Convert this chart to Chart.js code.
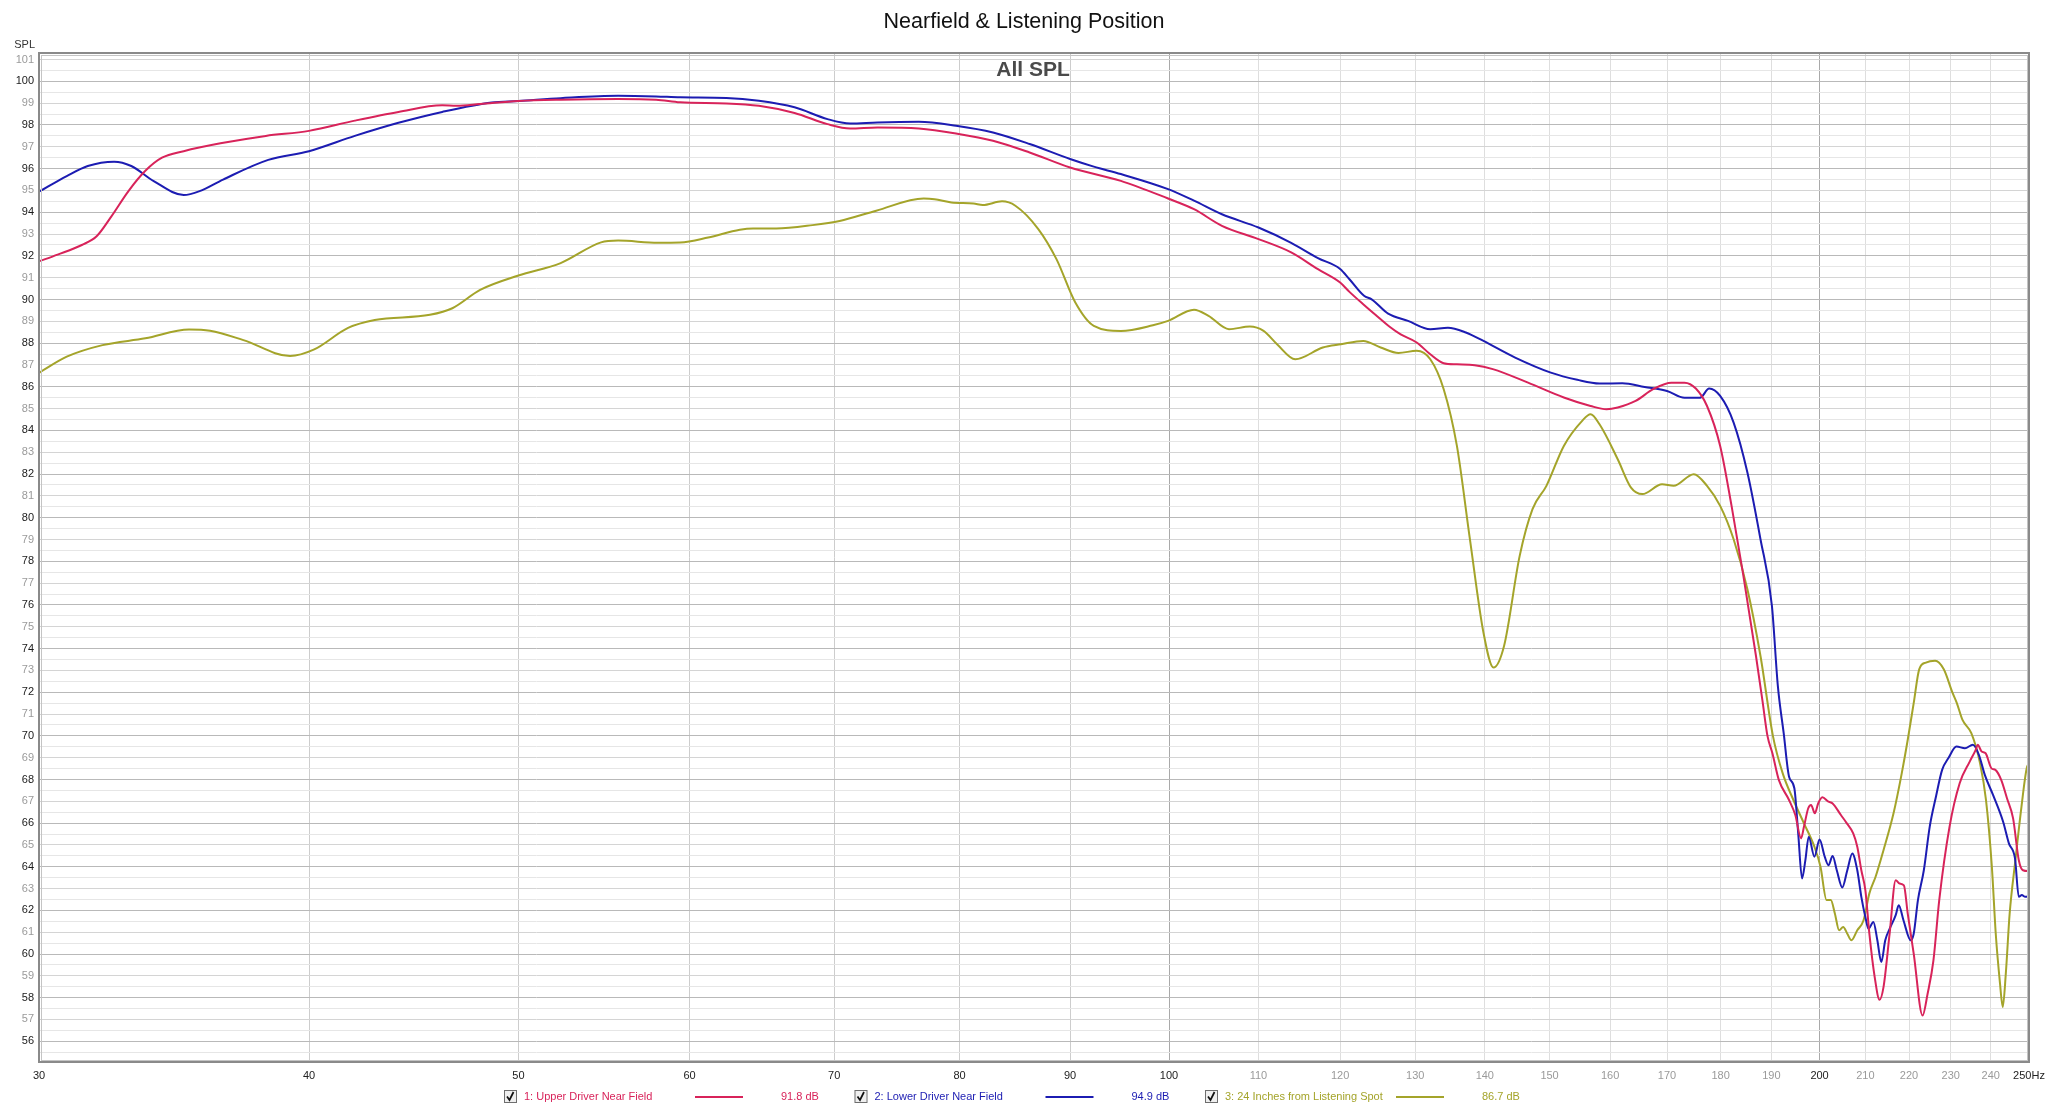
<!DOCTYPE html>
<html>
<head>
<meta charset="utf-8">
<title>Nearfield & Listening Position</title>
<script src="https://cdn.jsdelivr.net/npm/chart.js@4.4.0/dist/chart.umd.min.js"></script>
<style>
  html, body { margin: 0; padding: 0; background: #fff; }
  #wrap { width: 2048px; height: 1110px; position: relative; }
</style>
</head>
<body>
<div id="wrap"><canvas id="chart"></canvas></div>
<script>
// Series names, levels and colours (legend)
const seriesNames = ['1: Upper Driver Near Field', '2: Lower Driver Near Field', '3: 24 Inches from Listening Spot']
const seriesLevels = ['91.8 dB', '94.9 dB', '86.7 dB']
const seriesColors = ['#d8235a', '#1c1cb2', '#a4a42a']

// Axis ticks
const freqTicks = [30, 40, 50, 60, 70, 80, 90, 100, 110, 120, 130, 140, 150, 160, 170, 180, 190, 200, 210, 220, 230, 240, 250]
const splTicks = []
for (let v = 55.5; v <= 101; v += 0.5) splTicks.push(v)

// 1: Upper Driver Near Field
const upperFreq = [30, 30.6, 31.4, 31.9, 32.4, 33.0, 33.6, 34.2, 35.0, 36.4, 38.2, 40, 42, 44, 46.1, 46.8, 48, 50, 52.3, 55.6,
  57.9, 59.4, 62.4, 64.6, 67.1, 69.5, 71.2, 73.3, 76.6, 79.7, 82.9, 86.2, 90, 95, 99.9, 102.7, 105.8, 110, 113.9, 117.2,
  120, 121.2, 123.1, 124.6, 126.5, 128, 130.2, 132.1, 134, 135.9, 138.5, 141.2, 146.6, 152.3, 156.7, 159.4, 161.3, 164.4, 167.5, 170.8,
  173.2, 175.3, 177.4, 179.9, 182.1, 184.3, 186.9, 188.2, 189.2, 190.2, 191.5, 193.6, 194.9, 196.1, 196.7, 197.6, 198.2, 199.0, 199.7, 200.6,
  201.9, 202.8, 204.6, 205.9, 207.3, 208.2, 209.1, 210.0, 210.9, 212.1, 213.2, 214.1, 215.5, 216.9, 217.8, 218.8, 219.7, 221.1, 223.2, 224.4,
  225.8, 227.2, 229.7, 232.2, 234.7, 236.2, 236.7, 237.7, 238.7, 240.2, 241.2, 242.7, 244.2, 245.8, 247.3, 248.4, 250]
const upperSpl = [91.75, 92.06, 92.5, 92.9, 93.8, 94.97, 95.9, 96.5, 96.8, 97.16, 97.5, 97.73, 98.2, 98.6, 98.9, 98.88, 98.96, 99.1, 99.16, 99.19,
  99.16, 99.04, 98.99, 98.88, 98.55, 98.04, 97.84, 97.89, 97.84, 97.61, 97.28, 96.74, 96.05, 95.44, 94.63, 94.14, 93.38, 92.77, 92.16, 91.39,
  90.78, 90.35, 89.75, 89.3, 88.75, 88.4, 88.03, 87.49, 87.08, 87.03, 86.99, 86.81, 86.19, 85.51, 85.12, 84.97, 85.05, 85.35, 85.89, 86.19,
  86.19, 85.92, 85.12, 83.29, 80.54, 77.49, 73.66, 71.6, 70.0, 69.2, 67.98, 67.06, 66.37, 65.3, 65.83, 66.68, 66.83, 66.45, 66.9, 67.18,
  66.98, 66.9, 66.37, 65.99, 65.53, 64.92, 63.84, 62.93, 60.93, 58.94, 57.9, 58.48, 60.93, 63.38, 63.23, 63.15, 61.85, 60.02, 57.18, 58.18,
  59.71, 62.47, 65.83, 67.83, 68.82, 69.36, 69.59, 69.28, 69.2, 68.51, 68.44, 67.98, 67.14, 66.22, 64.3, 63.84, 63.8]

// 2: Lower Driver Near Field
const lowerFreq = [30, 30.9, 31.6, 32.5, 33.1, 33.9, 35.0, 35.6, 36.5, 38.3, 40, 42, 44, 46.1, 48.6, 50, 52.3, 55.6, 57.9, 59.4,
  62.4, 64.6, 67.1, 69.5, 71.2, 73.3, 76.6, 79.7, 82.9, 86.2, 90, 92.3, 95, 99.9, 102.7, 105.8, 110, 113.9, 117.2, 120,
  121.2, 123.1, 124.1, 126.3, 129.0, 132.1, 134.6, 137.2, 139.8, 144.6, 150.2, 154.5, 158.2, 162.1, 166.0, 170.0, 173.2, 176.1, 177.8, 179.9,
  182.5, 185.2, 187.8, 190.1, 191.3, 192.5, 193.6, 194.7, 195.5, 196.3, 197.0, 197.7, 198.9, 200.0, 201.1, 201.9, 202.8, 203.7, 204.9, 206.0,
  207.1, 208.2, 209.1, 210.0, 210.7, 211.8, 212.7, 213.6, 214.5, 215.7, 216.9, 217.6, 218.7, 220.4, 221.1, 222.1, 223.5, 224.9, 226.4, 227.9,
  229.4, 231.4, 233.5, 235.5, 237.0, 238.5, 240.6, 243.2, 244.7, 246.3, 247.3, 248.1, 249.0, 250]
const lowerSpl = [94.94, 95.66, 96.12, 96.32, 96.12, 95.43, 94.79, 94.97, 95.5, 96.4, 96.8, 97.5, 98.1, 98.6, 99.03, 99.1, 99.23, 99.34, 99.31, 99.27,
  99.24, 99.11, 98.81, 98.27, 98.07, 98.12, 98.15, 97.97, 97.66, 97.13, 96.44, 96.09, 95.75, 95.06, 94.53, 93.91, 93.3, 92.6, 91.9, 91.4,
  90.93, 90.17, 90.01, 89.35, 89.02, 88.64, 88.71, 88.49, 88.1, 87.34, 86.65, 86.32, 86.15, 86.16, 85.99, 85.81, 85.5, 85.5, 85.92, 85.58,
  84.36, 82.07, 79.01, 75.96, 72.3, 70.12, 68.13, 67.6, 65.53, 63.46, 64.3, 65.38, 64.46, 65.25, 64.46, 64.07, 64.49, 63.84, 63.05, 63.84,
  64.61, 63.84, 62.62, 61.7, 61.16, 61.47, 60.63, 59.63, 60.63, 61.24, 61.78, 62.24, 61.55, 60.63, 60.93, 62.47, 63.84, 65.83, 67.21, 68.44,
  68.97, 69.51, 69.43, 69.59, 69.13, 68.21, 67.29, 66.06, 65.07, 64.38, 62.62, 62.7, 62.62, 62.65]

// 3: 24 Inches from Listening Spot
const listenFreq = [30, 30.9, 32.1, 33.6, 35.2, 36.0, 37.3, 39.2, 40.2, 41.7, 42.9, 45.5, 46.6, 48.0, 50, 52.3, 54.6, 55.6, 58.0, 59.4,
  61.2, 63.3, 64.2, 65.8, 68.4, 70.4, 73.2, 77.0, 77.9, 79.3, 81.2, 82.0, 83.7, 84.9, 87.0, 88.7, 90.5, 92.3, 95.0, 98.3,
  99.9, 102.7, 104.3, 106.6, 109.0, 110.6, 112.2, 114.4, 117.8, 120.1, 123.0, 125.3, 127.7, 130.2, 132.1, 134.0, 135.9, 137.8, 139.8, 141.3,
  142.9, 145.3, 147.3, 149.5, 152.3, 155.3, 156.7, 158.2, 161.3, 163.6, 165.6, 169.1, 171.2, 174.9, 177.4, 179.9, 182.5, 185.2, 187.8, 190.3,
  192.3, 194.5, 196.7, 198.9, 200.2, 201.5, 202.4, 203.3, 204.2, 205.1, 206.0, 206.9, 208.2, 209.6, 210.9, 212.3, 214.1, 216.4, 218.3, 219.7,
  221.1, 222.4, 224.0, 226.2, 228.3, 230.4, 231.5, 232.9, 235.1, 237.3, 238.8, 240.3, 241.3, 242.4, 243.1, 243.9, 244.9, 246.4, 248.0, 249.5, 250]
const listenSpl = [86.64, 87.38, 87.91, 88.22, 88.63, 88.57, 88.14, 87.41, 87.7, 88.7, 89.06, 89.3, 89.6, 90.44, 91.1, 91.67, 92.62, 92.7, 92.6, 92.61,
  92.84, 93.2, 93.26, 93.26, 93.41, 93.6, 94.07, 94.63, 94.6, 94.45, 94.4, 94.33, 94.5, 94.3, 93.23, 91.85, 89.86, 88.79, 88.56, 88.82,
  89.02, 89.53, 89.25, 88.64, 88.76, 88.56, 87.95, 87.26, 87.8, 87.95, 88.1, 87.8, 87.55, 87.65, 87.26, 85.89, 83.29, 79.01, 74.73, 73.13,
  74.12, 78.25, 80.39, 81.46, 83.29, 84.44, 84.74, 84.28, 82.68, 81.38, 81.08, 81.53, 81.46, 81.99, 81.46, 80.54, 79.01, 76.72, 73.66, 70.0,
  68.28, 67.06, 65.99, 64.92, 64.0, 62.47, 62.47, 61.85, 61.09, 61.24, 60.93, 60.63, 61.09, 61.55, 62.78, 63.54, 64.76, 66.45, 68.28, 69.82,
  71.5, 73.05, 73.36, 73.44, 73.05, 71.99, 71.5, 70.73, 70.12, 68.74, 67.06, 64.0, 60.93, 58.64, 57.57, 59.1, 61.85, 64.3, 66.75, 68.59, 68.7]

const fontFamily = "'Liberation Sans', Arial, sans-serif"

function toPoints(freqs, spls) {
    return freqs.map((f, i) => ({ x: f, y: spls[i] }))
}

function drawCheckbox(ctx, x, y) {
    ctx.fillStyle = '#efefef'
    ctx.fillRect(x, y, 12, 12)
    ctx.strokeStyle = '#6e6e6e'
    ctx.lineWidth = 1
    ctx.strokeRect(x + 0.5, y + 0.5, 12, 12)
    ctx.strokeStyle = '#111'
    ctx.lineWidth = 1.7
    ctx.beginPath()
    ctx.moveTo(x + 3, y + 6.5)
    ctx.lineTo(x + 5.5, y + 10)
    ctx.lineTo(x + 9.5, y + 2)
    ctx.stroke()
}

// Title, box frame, inner caption and the bottom legend
const decorPlugin = {
    id: 'decor',
    beforeDraw(chart) {
        const ctx = chart.ctx
        ctx.save()
        ctx.fillStyle = '#fff'
        ctx.fillRect(0, 0, chart.width, chart.height)
        ctx.restore()
    },
    afterDraw(chart) {
        const ctx = chart.ctx
        const a = chart.chartArea
        ctx.save()

        // frame
        ctx.strokeStyle = '#c4c4c4'
        ctx.lineWidth = 1
        ctx.strokeRect(a.left + 2.5, a.top + 2.5, a.right - a.left - 4, a.bottom - a.top - 4)
        ctx.strokeStyle = '#8a8a8a'
        ctx.lineWidth = 2
        ctx.strokeRect(a.left, a.top, a.right - a.left, a.bottom - a.top)

        // titles
        ctx.textAlign = 'center'
        ctx.textBaseline = 'alphabetic'
        ctx.fillStyle = '#111'
        ctx.font = `21.5px ${fontFamily}`
        ctx.fillText('Nearfield & Listening Position', 1024, 28)
        ctx.fillStyle = '#4a4a4a'
        ctx.font = `bold 21px ${fontFamily}`
        ctx.fillText('All SPL', 1033, 76)

        ctx.textAlign = 'right'
        ctx.fillStyle = '#333'
        ctx.font = `11px ${fontFamily}`
        ctx.fillText('SPL', 35, 48)

        // legend
        const legendY = 1097
        seriesNames.forEach((name, i) => {
            const x0 = 504 + i * 350.5
            drawCheckbox(ctx, x0, legendY - 7)
            ctx.textAlign = 'left'
            ctx.textBaseline = 'middle'
            ctx.font = `11px ${fontFamily}`
            ctx.fillStyle = seriesColors[i]
            ctx.fillText(name, x0 + 20, legendY)
            ctx.strokeStyle = seriesColors[i]
            ctx.lineWidth = 2
            ctx.beginPath()
            ctx.moveTo(x0 + 191, legendY)
            ctx.lineTo(x0 + 239, legendY)
            ctx.stroke()
            ctx.fillText(seriesLevels[i], x0 + 277, legendY)
        })
        ctx.restore()
    }
}

const ctx = document.querySelector('#chart').getContext('2d')

new Chart(ctx, {
    type: 'line',
    data: {
        datasets: [
            { label: seriesNames[0], data: toPoints(upperFreq, upperSpl), borderColor: seriesColors[0] },
            { label: seriesNames[1], data: toPoints(lowerFreq, lowerSpl), borderColor: seriesColors[1] },
            { label: seriesNames[2], data: toPoints(listenFreq, listenSpl), borderColor: seriesColors[2] },
        ]
    },
    options: {
        responsive: true,
        maintainAspectRatio: false,
        animation: false,
        devicePixelRatio: 1,
        layout: { padding: { top: 53, right: 19, bottom: 0, left: 0 } },
        elements: {
            point: { radius: 0 },
            line: { borderWidth: 2, fill: false, cubicInterpolationMode: 'monotone' }
        },
        plugins: {
            legend: { display: false },
            title: { display: false },
            tooltip: { enabled: false }
        },
        scales: {
            x: {
                type: 'logarithmic',
                min: 30,
                max: 250,
                afterBuildTicks: scale => { scale.ticks = freqTicks.map(v => ({ value: v })) },
                afterFit: scale => {
                    // keep the plot box where the original has it, labels may overhang
                    scale.height = 48
                    scale.paddingLeft = 0
                    scale.paddingRight = 0
                },
                border: { display: false },
                grid: {
                    drawTicks: false,
                    lineWidth: 1,
                    color: c => {
                        const v = c.tick ? c.tick.value : 0
                        if (v === 100 || v === 200) return '#a9a9a9'
                        return v < 100 ? '#cdcdcd' : '#dedede'
                    }
                },
                ticks: {
                    autoSkip: false,
                    maxRotation: 0,
                    padding: 7,
                    font: { size: 11, family: fontFamily },
                    color: c => {
                        const v = c.tick ? c.tick.value : 0
                        return (v <= 100 || v === 200 || v === 250) ? '#222' : '#9a9a9a'
                    },
                    callback: v => v === 250 ? '250Hz' : String(v)
                }
            },
            y: {
                min: 55.05,
                max: 101.3,
                afterBuildTicks: scale => { scale.ticks = splTicks.map(v => ({ value: v })) },
                afterFit: scale => {
                    scale.width = 39
                    scale.paddingTop = 0
                    scale.paddingBottom = 0
                },
                border: { display: false },
                grid: {
                    drawTicks: false,
                    lineWidth: 1,
                    color: c => {
                        const v = c.tick ? c.tick.value : 0
                        if (!Number.isInteger(v)) return '#e6e6e6'
                        return v % 2 === 0 ? '#b9b9b9' : '#d4d4d4'
                    }
                },
                ticks: {
                    autoSkip: false,
                    padding: 5,
                    font: { size: 11, family: fontFamily },
                    color: c => {
                        const v = c.tick ? c.tick.value : 0
                        return v % 2 === 0 ? '#1a1a1a' : '#9a9a9a'
                    },
                    callback: v => Number.isInteger(v) ? String(v) : ''
                }
            }
        }
    },
    plugins: [decorPlugin]
})
</script>
</body>
</html>
